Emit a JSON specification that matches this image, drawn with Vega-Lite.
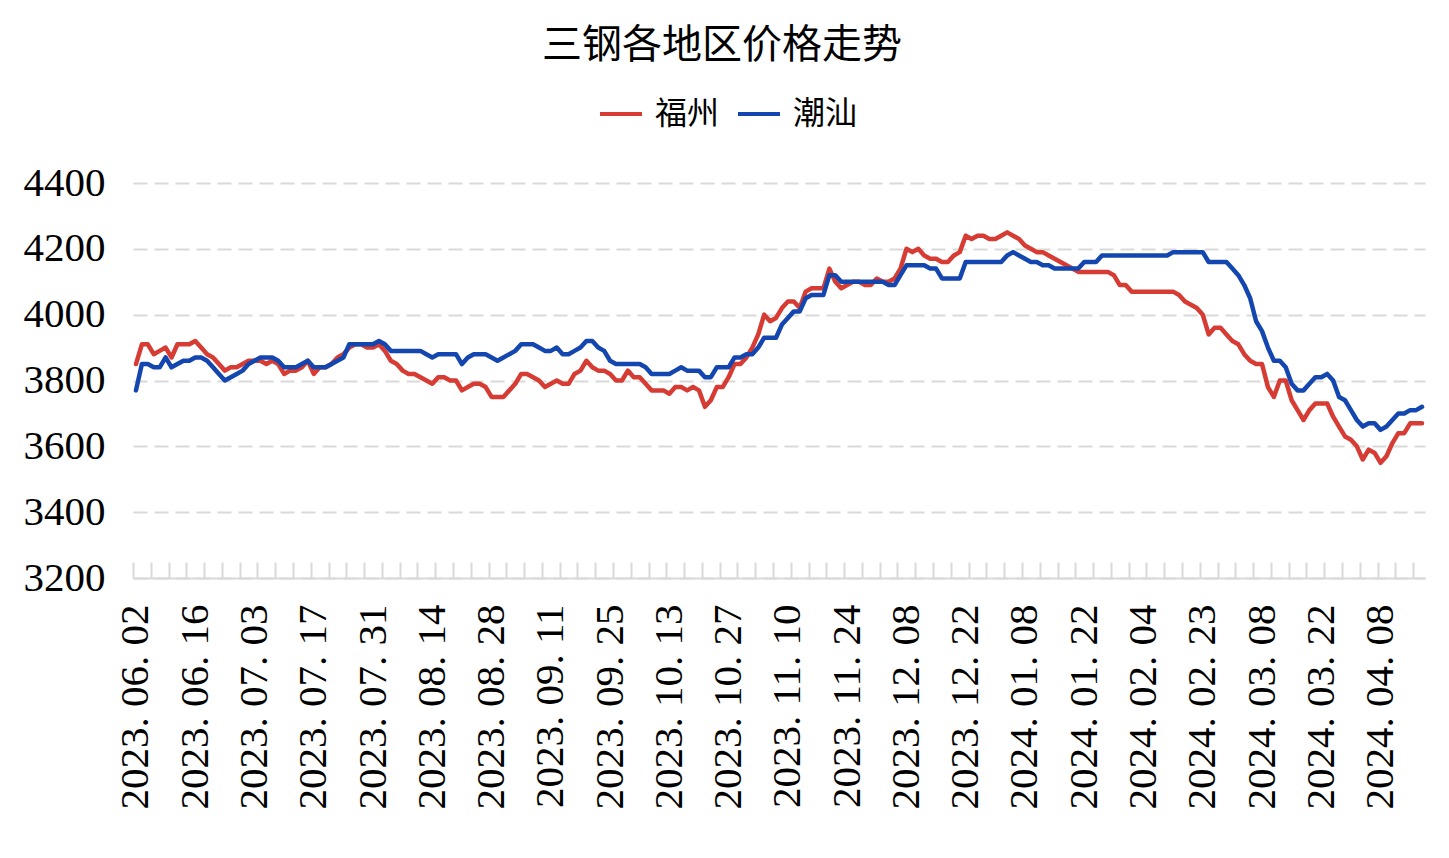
{
  "$schema": "https://vega.github.io/schema/vega-lite/v6.json",
  "width": 1292,
  "height": 395,
  "autosize": {"type": "none"},
  "padding": {"left": 133, "top": 183, "right": 24, "bottom": 280},
  "background": "#ffffff",
  "title": {
    "text": "三钢各地区价格走势",
    "font": "Noto Sans CJK SC",
    "fontSize": 40,
    "fontWeight": "normal",
    "color": "#000000",
    "anchor": "middle",
    "dx": -57,
    "offset": 25
  },
  "data": {
    "values": [
      {"date": "2023.06.02", "福州": 3850, "潮汕": 3770},
      {"date": "2023.06.05", "福州": 3910, "潮汕": 3850},
      {"date": "2023.06.06", "福州": 3910, "潮汕": 3850},
      {"date": "2023.06.07", "福州": 3880, "潮汕": 3840},
      {"date": "2023.06.08", "福州": 3890, "潮汕": 3840},
      {"date": "2023.06.09", "福州": 3900, "潮汕": 3870},
      {"date": "2023.06.12", "福州": 3870, "潮汕": 3840},
      {"date": "2023.06.13", "福州": 3910, "潮汕": 3850},
      {"date": "2023.06.14", "福州": 3910, "潮汕": 3860},
      {"date": "2023.06.15", "福州": 3910, "潮汕": 3860},
      {"date": "2023.06.16", "福州": 3920, "潮汕": 3870},
      {"date": "2023.06.19", "福州": 3900, "潮汕": 3870},
      {"date": "2023.06.20", "福州": 3880, "潮汕": 3860},
      {"date": "2023.06.21", "福州": 3870, "潮汕": 3840},
      {"date": "2023.06.25", "福州": 3850, "潮汕": 3820},
      {"date": "2023.06.26", "福州": 3830, "潮汕": 3800},
      {"date": "2023.06.27", "福州": 3840, "潮汕": 3810},
      {"date": "2023.06.28", "福州": 3840, "潮汕": 3820},
      {"date": "2023.06.29", "福州": 3850, "潮汕": 3830},
      {"date": "2023.06.30", "福州": 3860, "潮汕": 3850},
      {"date": "2023.07.03", "福州": 3860, "潮汕": 3860},
      {"date": "2023.07.04", "福州": 3860, "潮汕": 3870},
      {"date": "2023.07.05", "福州": 3850, "潮汕": 3870},
      {"date": "2023.07.06", "福州": 3860, "潮汕": 3870},
      {"date": "2023.07.07", "福州": 3850, "潮汕": 3860},
      {"date": "2023.07.10", "福州": 3820, "潮汕": 3840},
      {"date": "2023.07.11", "福州": 3830, "潮汕": 3840},
      {"date": "2023.07.12", "福州": 3830, "潮汕": 3840},
      {"date": "2023.07.13", "福州": 3840, "潮汕": 3850},
      {"date": "2023.07.14", "福州": 3860, "潮汕": 3860},
      {"date": "2023.07.17", "福州": 3820, "潮汕": 3840},
      {"date": "2023.07.18", "福州": 3840, "潮汕": 3840},
      {"date": "2023.07.19", "福州": 3840, "潮汕": 3840},
      {"date": "2023.07.20", "福州": 3850, "潮汕": 3850},
      {"date": "2023.07.21", "福州": 3870, "潮汕": 3860},
      {"date": "2023.07.24", "福州": 3880, "潮汕": 3870},
      {"date": "2023.07.25", "福州": 3900, "潮汕": 3910},
      {"date": "2023.07.26", "福州": 3910, "潮汕": 3910},
      {"date": "2023.07.27", "福州": 3910, "潮汕": 3910},
      {"date": "2023.07.28", "福州": 3900, "潮汕": 3910},
      {"date": "2023.07.31", "福州": 3900, "潮汕": 3910},
      {"date": "2023.08.01", "福州": 3910, "潮汕": 3920},
      {"date": "2023.08.02", "福州": 3890, "潮汕": 3910},
      {"date": "2023.08.03", "福州": 3860, "潮汕": 3890},
      {"date": "2023.08.04", "福州": 3850, "潮汕": 3890},
      {"date": "2023.08.07", "福州": 3830, "潮汕": 3890},
      {"date": "2023.08.08", "福州": 3820, "潮汕": 3890},
      {"date": "2023.08.09", "福州": 3820, "潮汕": 3890},
      {"date": "2023.08.10", "福州": 3810, "潮汕": 3890},
      {"date": "2023.08.11", "福州": 3800, "潮汕": 3880},
      {"date": "2023.08.14", "福州": 3790, "潮汕": 3870},
      {"date": "2023.08.15", "福州": 3810, "潮汕": 3880},
      {"date": "2023.08.16", "福州": 3810, "潮汕": 3880},
      {"date": "2023.08.17", "福州": 3800, "潮汕": 3880},
      {"date": "2023.08.18", "福州": 3800, "潮汕": 3880},
      {"date": "2023.08.21", "福州": 3770, "潮汕": 3850},
      {"date": "2023.08.22", "福州": 3780, "潮汕": 3870},
      {"date": "2023.08.23", "福州": 3790, "潮汕": 3880},
      {"date": "2023.08.24", "福州": 3790, "潮汕": 3880},
      {"date": "2023.08.25", "福州": 3780, "潮汕": 3880},
      {"date": "2023.08.28", "福州": 3750, "潮汕": 3870},
      {"date": "2023.08.29", "福州": 3750, "潮汕": 3860},
      {"date": "2023.08.30", "福州": 3750, "潮汕": 3870},
      {"date": "2023.08.31", "福州": 3770, "潮汕": 3880},
      {"date": "2023.09.01", "福州": 3790, "潮汕": 3890},
      {"date": "2023.09.04", "福州": 3820, "潮汕": 3910},
      {"date": "2023.09.05", "福州": 3820, "潮汕": 3910},
      {"date": "2023.09.06", "福州": 3810, "潮汕": 3910},
      {"date": "2023.09.07", "福州": 3800, "潮汕": 3900},
      {"date": "2023.09.08", "福州": 3780, "潮汕": 3890},
      {"date": "2023.09.11", "福州": 3790, "潮汕": 3890},
      {"date": "2023.09.12", "福州": 3800, "潮汕": 3900},
      {"date": "2023.09.13", "福州": 3790, "潮汕": 3880},
      {"date": "2023.09.14", "福州": 3790, "潮汕": 3880},
      {"date": "2023.09.15", "福州": 3820, "潮汕": 3890},
      {"date": "2023.09.18", "福州": 3830, "潮汕": 3900},
      {"date": "2023.09.19", "福州": 3860, "潮汕": 3920},
      {"date": "2023.09.20", "福州": 3840, "潮汕": 3920},
      {"date": "2023.09.21", "福州": 3830, "潮汕": 3900},
      {"date": "2023.09.22", "福州": 3830, "潮汕": 3890},
      {"date": "2023.09.25", "福州": 3820, "潮汕": 3860},
      {"date": "2023.09.26", "福州": 3800, "潮汕": 3850},
      {"date": "2023.09.27", "福州": 3800, "潮汕": 3850},
      {"date": "2023.09.28", "福州": 3830, "潮汕": 3850},
      {"date": "2023.10.07", "福州": 3810, "潮汕": 3850},
      {"date": "2023.10.08", "福州": 3810, "潮汕": 3850},
      {"date": "2023.10.09", "福州": 3790, "潮汕": 3840},
      {"date": "2023.10.10", "福州": 3770, "潮汕": 3820},
      {"date": "2023.10.11", "福州": 3770, "潮汕": 3820},
      {"date": "2023.10.12", "福州": 3770, "潮汕": 3820},
      {"date": "2023.10.13", "福州": 3760, "潮汕": 3820},
      {"date": "2023.10.16", "福州": 3780, "潮汕": 3830},
      {"date": "2023.10.17", "福州": 3780, "潮汕": 3840},
      {"date": "2023.10.18", "福州": 3770, "潮汕": 3830},
      {"date": "2023.10.19", "福州": 3780, "潮汕": 3830},
      {"date": "2023.10.20", "福州": 3770, "潮汕": 3830},
      {"date": "2023.10.23", "福州": 3720, "潮汕": 3810},
      {"date": "2023.10.24", "福州": 3740, "潮汕": 3810},
      {"date": "2023.10.25", "福州": 3780, "潮汕": 3840},
      {"date": "2023.10.26", "福州": 3780, "潮汕": 3840},
      {"date": "2023.10.27", "福州": 3810, "潮汕": 3840},
      {"date": "2023.10.30", "福州": 3850, "潮汕": 3870},
      {"date": "2023.10.31", "福州": 3850, "潮汕": 3870},
      {"date": "2023.11.01", "福州": 3870, "潮汕": 3880},
      {"date": "2023.11.02", "福州": 3900, "潮汕": 3880},
      {"date": "2023.11.03", "福州": 3940, "潮汕": 3900},
      {"date": "2023.11.06", "福州": 4000, "潮汕": 3930},
      {"date": "2023.11.07", "福州": 3980, "潮汕": 3930},
      {"date": "2023.11.08", "福州": 3990, "潮汕": 3930},
      {"date": "2023.11.09", "福州": 4020, "潮汕": 3970},
      {"date": "2023.11.10", "福州": 4040, "潮汕": 3990},
      {"date": "2023.11.13", "福州": 4040, "潮汕": 4010},
      {"date": "2023.11.14", "福州": 4020, "潮汕": 4010},
      {"date": "2023.11.15", "福州": 4070, "潮汕": 4050},
      {"date": "2023.11.16", "福州": 4080, "潮汕": 4060},
      {"date": "2023.11.17", "福州": 4080, "潮汕": 4060},
      {"date": "2023.11.20", "福州": 4080, "潮汕": 4060},
      {"date": "2023.11.21", "福州": 4140, "潮汕": 4120},
      {"date": "2023.11.22", "福州": 4100, "潮汕": 4120},
      {"date": "2023.11.23", "福州": 4080, "潮汕": 4100},
      {"date": "2023.11.24", "福州": 4090, "潮汕": 4100},
      {"date": "2023.11.27", "福州": 4100, "潮汕": 4100},
      {"date": "2023.11.28", "福州": 4100, "潮汕": 4100},
      {"date": "2023.11.29", "福州": 4090, "潮汕": 4100},
      {"date": "2023.11.30", "福州": 4090, "潮汕": 4100},
      {"date": "2023.12.01", "福州": 4110, "潮汕": 4100},
      {"date": "2023.12.04", "福州": 4100, "潮汕": 4100},
      {"date": "2023.12.05", "福州": 4100, "潮汕": 4090},
      {"date": "2023.12.06", "福州": 4110, "潮汕": 4090},
      {"date": "2023.12.07", "福州": 4140, "潮汕": 4120},
      {"date": "2023.12.08", "福州": 4200, "潮汕": 4150},
      {"date": "2023.12.11", "福州": 4190, "潮汕": 4150},
      {"date": "2023.12.12", "福州": 4200, "潮汕": 4150},
      {"date": "2023.12.13", "福州": 4180, "潮汕": 4150},
      {"date": "2023.12.14", "福州": 4170, "潮汕": 4140},
      {"date": "2023.12.15", "福州": 4170, "潮汕": 4140},
      {"date": "2023.12.18", "福州": 4160, "潮汕": 4110},
      {"date": "2023.12.19", "福州": 4160, "潮汕": 4110},
      {"date": "2023.12.20", "福州": 4180, "潮汕": 4110},
      {"date": "2023.12.21", "福州": 4190, "潮汕": 4110},
      {"date": "2023.12.22", "福州": 4240, "潮汕": 4160},
      {"date": "2023.12.25", "福州": 4230, "潮汕": 4160},
      {"date": "2023.12.26", "福州": 4240, "潮汕": 4160},
      {"date": "2023.12.27", "福州": 4240, "潮汕": 4160},
      {"date": "2023.12.28", "福州": 4230, "潮汕": 4160},
      {"date": "2023.12.29", "福州": 4230, "潮汕": 4160},
      {"date": "2024.01.02", "福州": 4240, "潮汕": 4160},
      {"date": "2024.01.03", "福州": 4250, "潮汕": 4180},
      {"date": "2024.01.04", "福州": 4240, "潮汕": 4190},
      {"date": "2024.01.05", "福州": 4230, "潮汕": 4180},
      {"date": "2024.01.08", "福州": 4210, "潮汕": 4170},
      {"date": "2024.01.09", "福州": 4200, "潮汕": 4160},
      {"date": "2024.01.10", "福州": 4190, "潮汕": 4160},
      {"date": "2024.01.11", "福州": 4190, "潮汕": 4150},
      {"date": "2024.01.12", "福州": 4180, "潮汕": 4150},
      {"date": "2024.01.15", "福州": 4170, "潮汕": 4140},
      {"date": "2024.01.16", "福州": 4160, "潮汕": 4140},
      {"date": "2024.01.17", "福州": 4150, "潮汕": 4140},
      {"date": "2024.01.18", "福州": 4140, "潮汕": 4140},
      {"date": "2024.01.19", "福州": 4130, "潮汕": 4140},
      {"date": "2024.01.22", "福州": 4130, "潮汕": 4160},
      {"date": "2024.01.23", "福州": 4130, "潮汕": 4160},
      {"date": "2024.01.24", "福州": 4130, "潮汕": 4160},
      {"date": "2024.01.25", "福州": 4130, "潮汕": 4180},
      {"date": "2024.01.26", "福州": 4130, "潮汕": 4180},
      {"date": "2024.01.29", "福州": 4120, "潮汕": 4180},
      {"date": "2024.01.30", "福州": 4090, "潮汕": 4180},
      {"date": "2024.01.31", "福州": 4090, "潮汕": 4180},
      {"date": "2024.02.01", "福州": 4070, "潮汕": 4180},
      {"date": "2024.02.02", "福州": 4070, "潮汕": 4180},
      {"date": "2024.02.04", "福州": 4070, "潮汕": 4180},
      {"date": "2024.02.05", "福州": 4070, "潮汕": 4180},
      {"date": "2024.02.06", "福州": 4070, "潮汕": 4180},
      {"date": "2024.02.07", "福州": 4070, "潮汕": 4180},
      {"date": "2024.02.08", "福州": 4070, "潮汕": 4180},
      {"date": "2024.02.18", "福州": 4070, "潮汕": 4190},
      {"date": "2024.02.19", "福州": 4060, "潮汕": 4190},
      {"date": "2024.02.20", "福州": 4040, "潮汕": 4190},
      {"date": "2024.02.21", "福州": 4030, "潮汕": 4190},
      {"date": "2024.02.22", "福州": 4020, "潮汕": 4190},
      {"date": "2024.02.23", "福州": 4000, "潮汕": 4190},
      {"date": "2024.02.26", "福州": 3940, "潮汕": 4160},
      {"date": "2024.02.27", "福州": 3960, "潮汕": 4160},
      {"date": "2024.02.28", "福州": 3960, "潮汕": 4160},
      {"date": "2024.02.29", "福州": 3940, "潮汕": 4160},
      {"date": "2024.03.01", "福州": 3920, "潮汕": 4140},
      {"date": "2024.03.04", "福州": 3910, "潮汕": 4120},
      {"date": "2024.03.05", "福州": 3880, "潮汕": 4090},
      {"date": "2024.03.06", "福州": 3860, "潮汕": 4050},
      {"date": "2024.03.07", "福州": 3850, "潮汕": 3980},
      {"date": "2024.03.08", "福州": 3850, "潮汕": 3950},
      {"date": "2024.03.11", "福州": 3780, "潮汕": 3900},
      {"date": "2024.03.12", "福州": 3750, "潮汕": 3860},
      {"date": "2024.03.13", "福州": 3800, "潮汕": 3860},
      {"date": "2024.03.14", "福州": 3800, "潮汕": 3840},
      {"date": "2024.03.15", "福州": 3740, "潮汕": 3790},
      {"date": "2024.03.18", "福州": 3710, "潮汕": 3770},
      {"date": "2024.03.19", "福州": 3680, "潮汕": 3770},
      {"date": "2024.03.20", "福州": 3710, "潮汕": 3790},
      {"date": "2024.03.21", "福州": 3730, "潮汕": 3810},
      {"date": "2024.03.22", "福州": 3730, "潮汕": 3810},
      {"date": "2024.03.25", "福州": 3730, "潮汕": 3820},
      {"date": "2024.03.26", "福州": 3690, "潮汕": 3800},
      {"date": "2024.03.27", "福州": 3660, "潮汕": 3750},
      {"date": "2024.03.28", "福州": 3630, "潮汕": 3740},
      {"date": "2024.03.29", "福州": 3620, "潮汕": 3710},
      {"date": "2024.04.01", "福州": 3600, "潮汕": 3680},
      {"date": "2024.04.02", "福州": 3560, "潮汕": 3660},
      {"date": "2024.04.03", "福州": 3590, "潮汕": 3670},
      {"date": "2024.04.07", "福州": 3580, "潮汕": 3670},
      {"date": "2024.04.08", "福州": 3550, "潮汕": 3650},
      {"date": "2024.04.09", "福州": 3570, "潮汕": 3660},
      {"date": "2024.04.10", "福州": 3610, "潮汕": 3680},
      {"date": "2024.04.11", "福州": 3640, "潮汕": 3700},
      {"date": "2024.04.12", "福州": 3640, "潮汕": 3700},
      {"date": "2024.04.15", "福州": 3670, "潮汕": 3710},
      {"date": "2024.04.16", "福州": 3670, "潮汕": 3710},
      {"date": "2024.04.17", "福州": 3670, "潮汕": 3720}
    ]
  },
  "layer": [
    {
      "transform": [{"fold": ["福州", "潮汕"], "as": ["city", "price"]}],
      "mark": {"type": "line", "strokeWidth": 4.5, "strokeJoin": "round", "strokeCap": "round"},
      "encoding": {
        "x": {
          "field": "date",
          "type": "ordinal",
          "sort": null,
          "scale": {"type": "point", "padding": 0.5},
          "axis": {
            "title": null,
            "orient": "bottom",
            "values": ["2023.06.02", "2023.06.16", "2023.07.03", "2023.07.17", "2023.07.31", "2023.08.14", "2023.08.28", "2023.09.11", "2023.09.25", "2023.10.13", "2023.10.27", "2023.11.10", "2023.11.24", "2023.12.08", "2023.12.22", "2024.01.08", "2024.01.22", "2024.02.04", "2024.02.23", "2024.03.08", "2024.03.22", "2024.04.08"],
            "labelExpr": "substring(datum.value,0,5)+' '+substring(datum.value,5,8)+' '+substring(datum.value,8)",
            "labelAngle": 270,
            "labelFont": "Liberation Serif",
            "labelFontSize": 41,
            "labelColor": "#000000",
            "labelPadding": 26,
            "labelLimit": 0,
            "labelOverlap": false,
            "ticks": false,
            "domain": true,
            "domainColor": "#d9d9d9",
            "domainWidth": 2,
            "grid": false
          }
        },
        "y": {
          "field": "price",
          "type": "quantitative",
          "scale": {"domain": [3200, 4400], "nice": false, "zero": false},
          "axis": {
            "title": null,
            "values": [3200, 3400, 3600, 3800, 4000, 4200, 4400],
            "format": "d",
            "labelFont": "Liberation Serif",
            "labelFontSize": 41,
            "labelColor": "#000000",
            "labelPadding": 28,
            "ticks": false,
            "domain": false,
            "grid": true,
            "gridColor": "#d9d9d9",
            "gridWidth": 2,
            "gridDash": [14, 7]
          }
        },
        "color": {
          "field": "city",
          "type": "nominal",
          "scale": {"domain": ["福州", "潮汕"], "range": ["#D63C33", "#1446AF"]},
          "legend": {
            "title": null,
            "orient": "none",
            "legendX": 465,
            "legendY": -92,
            "direction": "horizontal",
            "symbolType": "stroke",
            "symbolSize": 1764,
            "symbolStrokeWidth": 4,
            "labelFont": "Noto Sans CJK SC",
            "labelFontSize": 32,
            "labelColor": "#000000",
            "labelOffset": 11,
            "columnPadding": 10,
            "padding": 0
          }
        }
      }
    },
    {
      "mark": {"type": "point", "opacity": 0},
      "encoding": {
        "x": {
          "field": "date",
          "type": "ordinal",
          "sort": null,
          "axis": {
            "title": null,
            "orient": "bottom",
            "values": ["2023.06.02", "2023.06.07", "2023.06.12", "2023.06.15", "2023.06.20", "2023.06.26", "2023.06.29", "2023.07.04", "2023.07.07", "2023.07.12", "2023.07.17", "2023.07.20", "2023.07.25", "2023.07.28", "2023.08.02", "2023.08.07", "2023.08.10", "2023.08.15", "2023.08.18", "2023.08.23", "2023.08.28", "2023.08.31", "2023.09.05", "2023.09.08", "2023.09.13", "2023.09.18", "2023.09.21", "2023.09.26", "2023.10.07", "2023.10.10", "2023.10.13", "2023.10.18", "2023.10.23", "2023.10.26", "2023.10.31", "2023.11.03", "2023.11.08", "2023.11.13", "2023.11.16", "2023.11.21", "2023.11.24", "2023.11.29", "2023.12.04", "2023.12.07", "2023.12.12", "2023.12.15", "2023.12.20", "2023.12.25", "2023.12.28", "2024.01.03", "2024.01.08", "2024.01.11", "2024.01.16", "2024.01.19", "2024.01.24", "2024.01.29", "2024.02.01", "2024.02.05", "2024.02.08", "2024.02.20", "2024.02.23", "2024.02.28", "2024.03.04", "2024.03.07", "2024.03.12", "2024.03.15", "2024.03.20", "2024.03.25", "2024.03.28", "2024.04.02", "2024.04.08", "2024.04.11", "2024.04.16"],
            "labels": false,
            "domain": false,
            "grid": false,
            "ticks": true,
            "tickColor": "#d9d9d9",
            "tickWidth": 2,
            "tickSize": -16,
            "tickOffset": -3
          }
        }
      }
    }
  ],
  "resolve": {"axis": {"x": "independent"}},
  "config": {
    "view": {"stroke": null}
  }
}
